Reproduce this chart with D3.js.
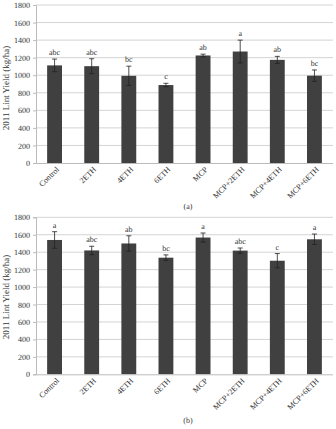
<!DOCTYPE html>
<html>
<head>
<meta charset="utf-8">
<script src="https://cdn.jsdelivr.net/npm/d3@7"></script>
<style>
  body { margin: 0; background: #fff; }
  svg text { font-family: "Liberation Serif", "DejaVu Serif", serif; }
</style>
</head>
<body>
<div id="chart"></div>
<script>
const categories = ["Control", "2ETH", "4ETH", "6ETH", "MCP", "MCP+2ETH", "MCP+4ETH", "MCP+6ETH"];
const yTicks = [0, 200, 400, 600, 800, 1000, 1200, 1400, 1600, 1800];

// panel (a)
const yieldA = [1112, 1103, 993, 888, 1225, 1270, 1175, 995];
const errA = [72, 85, 110, 20, 15, 130, 40, 65];
const lettersA = ["abc", "abc", "bc", "c", "ab", "a", "ab", "bc"];

// panel (b)
const yieldB = [1540, 1420, 1500, 1337, 1568, 1418, 1302, 1548];
const errB = [95, 48, 88, 32, 52, 30, 82, 60];
const lettersB = ["a", "abc", "ab", "bc", "a", "abc", "c", "a"];

const width = 336, height = 429;
const yTitle = "2011 Lint Yield (kg/ha)";

const svg = d3.select("#chart").append("svg")
  .attr("width", width)
  .attr("height", height)
  .attr("text-rendering", "geometricPrecision");

svg.append("rect").attr("width", width).attr("height", height).attr("fill", "#fff");

const x = d3.scaleBand()
  .domain(categories)
  .range([36, 333])
  .paddingInner(0.6)
  .paddingOuter(0.3);

function panel(values, errs, letters, top, bottom, tag, tagY, titleY) {
  const y = d3.scaleLinear().domain([0, 1800]).range([bottom, top]);
  const g = svg.append("g");

  // gridlines
  g.append("g").selectAll("line")
    .data(yTicks.slice(1))
    .join("line")
      .attr("x1", 36).attr("x2", 333)
      .attr("y1", d => y(d)).attr("y2", d => y(d))
      .attr("stroke", "#d4d4d4").attr("stroke-width", 1);

  // y axis
  const yAxis = g.append("g")
    .attr("transform", "translate(36,0)")
    .call(d3.axisLeft(y).tickValues(yTicks).tickFormat(d3.format("d")).tickSize(3).tickPadding(3));
  yAxis.select(".domain").attr("stroke", "#bbb");
  yAxis.selectAll(".tick line").attr("stroke", "#bbb");
  yAxis.selectAll("text").attr("font-size", "8px").attr("fill", "#333")
    .attr("font-family", "Liberation Serif, serif");

  // bars
  g.append("g").selectAll("rect")
    .data(values)
    .join("rect")
      .attr("x", (d, i) => x(categories[i]))
      .attr("y", d => y(d))
      .attr("width", x.bandwidth())
      .attr("height", d => y(0) - y(d))
      .attr("fill", "#404040");

  // error bars
  const eb = g.append("g").attr("stroke", "#222").attr("stroke-width", 0.8);
  values.forEach((v, i) => {
    const cx = x(categories[i]) + x.bandwidth() / 2;
    eb.append("line").attr("x1", cx).attr("x2", cx)
      .attr("y1", y(v - errs[i])).attr("y2", y(v + errs[i]));
    eb.append("line").attr("x1", cx - 2.5).attr("x2", cx + 2.5)
      .attr("y1", y(v + errs[i])).attr("y2", y(v + errs[i]));
    eb.append("line").attr("x1", cx - 2.5).attr("x2", cx + 2.5)
      .attr("y1", y(v - errs[i])).attr("y2", y(v - errs[i]));
  });

  // significance letters
  g.append("g").selectAll("text")
    .data(letters)
    .join("text")
      .attr("x", (d, i) => x(categories[i]) + x.bandwidth() / 2)
      .attr("y", (d, i) => y(values[i] + errs[i]) - 4)
      .attr("text-anchor", "middle")
      .attr("font-size", "8px")
      .attr("fill", "#333")
      .text(d => d);

  // x axis
  const xAxis = g.append("g")
    .attr("transform", `translate(0,${bottom})`)
    .call(d3.axisBottom(x).tickSize(0).tickSizeOuter(0));
  xAxis.select(".domain").attr("stroke", "#bbb").attr("d", "M36,0.5H333");
  xAxis.selectAll("text")
    .attr("font-size", "8px")
    .attr("fill", "#333")
    .attr("font-family", "Liberation Serif, serif")
    .attr("text-anchor", "end")
    .attr("x", 0)
    .attr("y", 0)
    .attr("dy", "0.35em")
    .attr("transform", "translate(3,5) rotate(-45)");

  // y title
  g.append("text")
    .attr("transform", `translate(9,${titleY}) rotate(-90)`)
    .attr("text-anchor", "middle")
    .attr("font-size", "9px")
    .attr("fill", "#333")
    .text(yTitle);

  // panel tag
  g.append("text")
    .attr("x", 188).attr("y", tagY)
    .attr("text-anchor", "middle")
    .attr("font-size", "8px")
    .attr("fill", "#333")
    .text(tag);
}

panel(yieldA, errA, lettersA, 5, 163, "(a)", 209, 88);
panel(yieldB, errB, lettersB, 217.3, 374.3, "(b)", 423, 297);
</script>
</body>
</html>
